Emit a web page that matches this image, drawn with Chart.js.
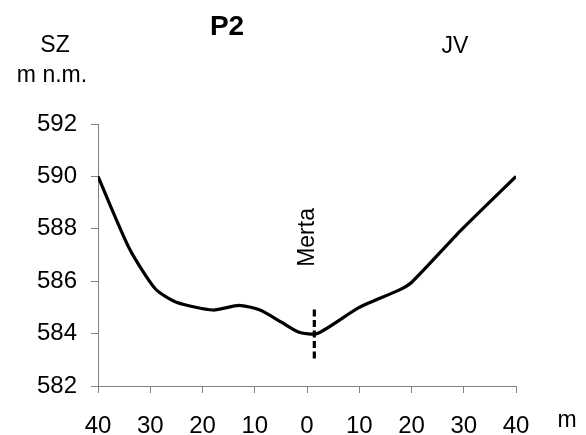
<!DOCTYPE html>
<html>
<head>
<meta charset="utf-8">
<script src="https://cdn.jsdelivr.net/npm/chart.js@4/dist/chart.umd.min.js"></script>
<style>
html,body{margin:0;padding:0;background:#fff;}
canvas{display:block;}
</style>
</head>
<body>
<canvas id="c" width="586" height="435"></canvas>
<script>
// Profile P2: distance along profile (m, SZ negative, JV positive) and elevation (m n.m.)
const distances  = [-40, -34, -29, -25, -18, -13, -9, -5, -1.5, 2, 10, 17.5, 20, 29.5, 40];
const elevations = [590, 587.25, 585.7, 585.2, 584.9, 585.08, 584.9, 584.45, 584.05, 584.0, 585.0, 585.65, 585.95, 587.95, 590];
// Dashed marker (Merta)
const markerX = [1.4, 1.4];
const markerY = [583.05, 585.0];
const xTicks = [-40, -30, -20, -10, 0, 10, 20, 30, 40];
const yTicks = [582, 584, 586, 588, 590, 592];
const titleText = 'P2';
const leftLabel = 'SZ';
const rightLabel = 'JV';
const yUnit = 'm n.m.';
const xUnit = 'm';
const markerLabel = 'Merta';
const markerLabelPos = [0.1, 587.67];

const FONT = "'Liberation Sans', Arial, sans-serif";

const textPlugin = {
  id: 'texts',
  afterDraw(chart) {
    const ctx = chart.ctx;
    const xs = chart.scales.x, ys = chart.scales.y;
    ctx.save();
    ctx.fillStyle = '#000';
    ctx.textAlign = 'center';
    ctx.textBaseline = 'middle';
    ctx.font = 'bold 28px ' + FONT;
    ctx.fillText(titleText, 227, 27);
    ctx.font = '23px ' + FONT;
    ctx.fillText(leftLabel, 55, 46);
    ctx.fillText(rightLabel, 455, 47);
    ctx.fillText(yUnit, 52, 76);
    ctx.fillText(xUnit, 567, 421);
    ctx.translate(xs.getPixelForValue(markerLabelPos[0]), ys.getPixelForValue(markerLabelPos[1]));
    ctx.rotate(-Math.PI / 2);
    ctx.fillText(markerLabel, 0, 0);
    ctx.restore();
  }
};

new Chart(document.getElementById('c'), {
  type: 'scatter',
  data: {
    datasets: [
      {
        data: distances.map((d, i) => ({x: d, y: elevations[i]})),
        showLine: true,
        borderColor: '#000',
        borderWidth: 3.2,
        pointRadius: 0,
        tension: 0.22,
        fill: false
      },
      {
        data: markerX.map((d, i) => ({x: d, y: markerY[i]})),
        showLine: true,
        borderColor: '#000',
        borderWidth: 3.2,
        borderDash: [7, 3.5],
        pointRadius: 0,
        tension: 0,
        fill: false
      }
    ]
  },
  options: {
    responsive: false,
    animation: false,
    layout: { padding: { top: 124, left: 0, right: 70, bottom: 0 } },
    plugins: { legend: { display: false }, tooltip: { enabled: false }, title: { display: false } },
    scales: {
      x: {
        type: 'linear',
        min: -40, max: 40,
        afterBuildTicks(scale) { scale.ticks = xTicks.map(v => ({value: v})); },
        afterFit(scale) { scale.height = 49; },
        border: { color: '#808080', width: 1 },
        grid: { drawOnChartArea: false, drawTicks: true, tickLength: 7, color: '#808080' },
        ticks: {
          color: '#000',
          font: { family: FONT, size: 24 },
          padding: 19,
          maxRotation: 0,
          callback: v => String(Math.abs(v))
        }
      },
      y: {
        type: 'linear',
        min: 582, max: 592,
        afterBuildTicks(scale) { scale.ticks = yTicks.map(v => ({value: v})); },
        afterFit(scale) { scale.width = 98; },
        border: { color: '#808080', width: 1 },
        grid: { drawOnChartArea: false, drawTicks: true, tickLength: 7, color: '#808080' },
        ticks: {
          color: '#000',
          font: { family: FONT, size: 24 },
          padding: 14
        }
      }
    }
  },
  plugins: [textPlugin]
});
</script>
</body>
</html>
